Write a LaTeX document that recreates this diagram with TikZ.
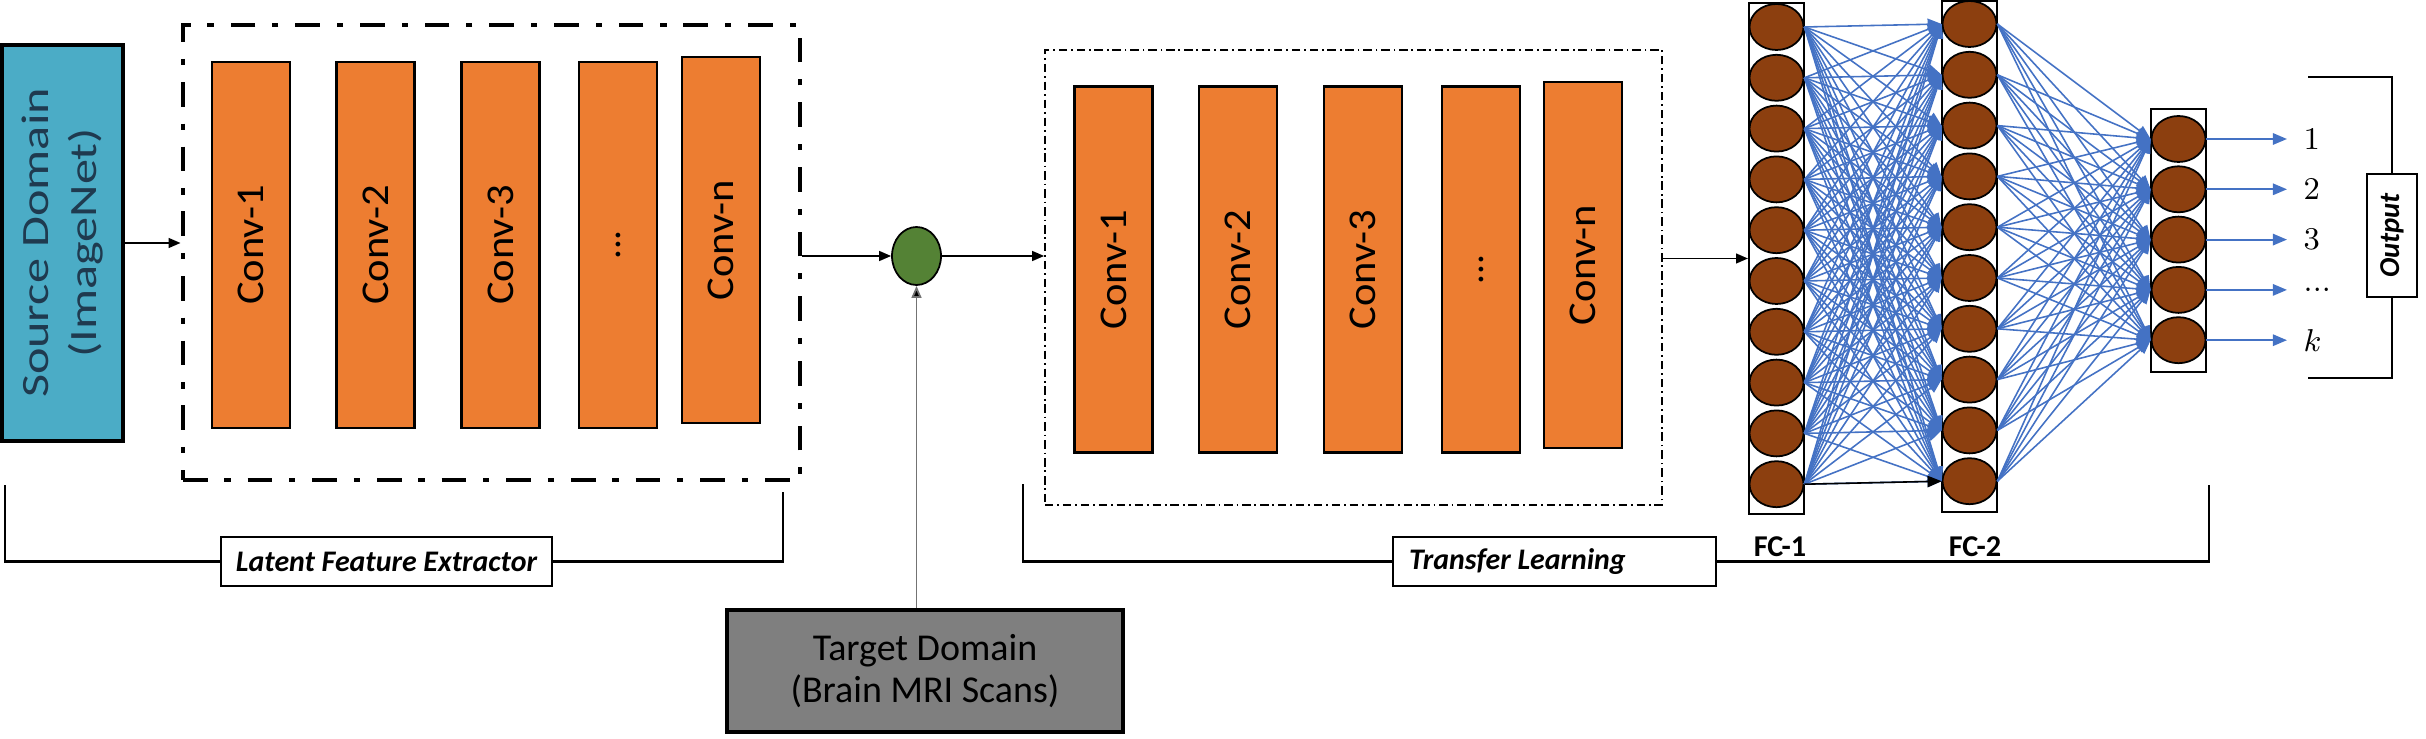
\documentclass[tikz,border=0pt]{standalone}
\usepackage{fontspec}
\setmainfont{Carlito}
\usetikzlibrary{shapes.geometric,arrows.meta}
\definecolor{convorange}{HTML}{ED7D31}
\definecolor{srcblue}{HTML}{4BACC6}
\definecolor{srctext}{HTML}{1F3A4F}
\definecolor{greennode}{HTML}{548235}
\definecolor{tgtgray}{HTML}{7F7F7F}
\definecolor{neuronbrown}{HTML}{8C3F0F}
\definecolor{edgeblue}{HTML}{4472C4}
\newcommand{\stretchtext}[2]{\scalebox{#1}[1]{#2}}
\begin{document}
\begin{tikzpicture}[x=0.1mm,y=-0.1mm,
  box/.style={draw, line width=0.6pt, inner sep=0pt},
  conv/.style={box, fill=convorange, rotate=90, minimum width=36.6mm, minimum height=7.8mm,
    font=\fontsize{11.2pt}{13pt}\selectfont},
  bigdash/.style={draw, line width=1.4pt, dash pattern=on 7pt off 4.8pt on 1.8pt off 4.8pt,
    minimum width=61.7mm, minimum height=45.5mm, inner sep=0pt},
  thindash/.style={draw, line width=0.5pt, dash pattern=on 2.4pt off 1.1pt on 0.5pt off 1.1pt,
    minimum width=61.7mm, minimum height=45.5mm, inner sep=0pt},
  arr/.style={line width=0.5pt, -{Triangle[length=3.4pt,width=2.8pt]}},
  brk/.style={line width=0.6pt},
  lab/.style={box, minimum height=4.9mm, font=\bfseries\itshape\fontsize{8.5pt}{10pt}\selectfont},
  layer/.style={box, fill=white, minimum width=5.5mm},
  neuron/.style={ellipse, draw, line width=0.5pt, fill=neuronbrown, minimum width=5.4mm,
    minimum height=4.6mm, inner sep=0pt},
  edge/.style={draw=edgeblue, line width=0.45pt, -{Triangle[length=4pt,width=3.2pt]}},
  fclab/.style={font=\bfseries\fontsize{8.6pt}{10pt}\selectfont, inner sep=0pt},
  outlab/.style={anchor=west, inner xsep=1.6mm, inner ysep=0pt, font=\fontsize{9.5pt}{11pt}\selectfont}
]
\useasboundingbox (0,0) rectangle (2426,739);

% Source domain
\node[box, line width=1pt, fill=srcblue, rotate=90, minimum width=39.6mm, minimum height=12.1mm,
  align=center, text=srctext, font=\fontsize{11pt}{13.5pt}\selectfont] (src) at (62.5,243)
  {\stretchtext{1.3}{Source Domain}\\\stretchtext{1.3}{(ImageNet)}};

% Latent feature extractor block
\node[bigdash] (db1) at (491.5,252.5) {};
\node[conv] (c11) at (251,245) {\stretchtext{1.08}{Conv-1}};
\node[conv] (c12) at (375.5,245) {\stretchtext{1.08}{Conv-2}};
\node[conv] (c13) at (500.5,245) {\stretchtext{1.08}{Conv-3}};
\node[conv] (c14) at (618,245) {...};
\node[conv] (c1n) at (721,240) {\stretchtext{1.08}{Conv-n}};

% merge node
\node[ellipse, draw, line width=0.5pt, fill=greennode, minimum width=4.9mm, minimum height=5.8mm,
  inner sep=0pt] (g) at (916.5,256) {};

% target domain
\node[box, line width=1pt, fill=tgtgray, minimum width=39.6mm, minimum height=12.2mm, align=center,
  font=\fontsize{10.8pt}{12pt}\selectfont] (tgt) at (925,671)
  {Target Domain\\(Brain MRI Scans)};

% transfer block
\node[thindash] (db2) at (1353.5,277.5) {};
\node[conv] (c21) at (1113.5,269.5) {\stretchtext{1.08}{Conv-1}};
\node[conv] (c22) at (1238,269.5) {\stretchtext{1.08}{Conv-2}};
\node[conv] (c23) at (1363,269.5) {\stretchtext{1.08}{Conv-3}};
\node[conv] (c24) at (1481,269.5) {...};
\node[conv] (c2n) at (1583,265) {\stretchtext{1.08}{Conv-n}};

% arrows
\draw[arr] (src.south) -- (src.south -| db1.west);
\draw[arr] (db1.east |- g.west) -- (g.west);
\draw[arr] (g.east) -- (g.east -| db2.west);
\draw[line width=0.5pt, draw=black!55, -{Triangle[length=3.4pt,width=2.8pt,fill=black]}] (g.south |- tgt.north) -- (g.south);

% brackets and labels
\node[lab, minimum width=33.1mm] (lfe) at (386.5,561.5) {Latent Feature Extractor};
\coordinate (lfeL) at (5,485);
\coordinate (lfeR) at (783,492);
\draw[brk] (lfe.west) -| (lfeL);
\draw[brk] (lfe.east) -| (lfeR);

\node[lab, minimum width=32.3mm] (tl) at (1554.5,561.5) {\makebox[29.1mm][l]{Transfer Learning}};
\coordinate (tlL) at (1023,484);
\coordinate (tlR) at (2209,485);
\draw[brk] (tl.west) -| (tlL);
\draw[brk] (tl.east) -| (tlR);

% neural layers
\node[layer, minimum height=51.1mm] (fcb1) at (1776.5,258.5) {};
\node[layer, minimum height=51.1mm] (fcb2) at (1969.5,256.5) {};
\node[layer, minimum height=26.3mm] (fcb3) at (2178.5,240.5) {};
\node[fclab] (fc1) at (1780,547) {FC-1};
\node[fclab] (fc2) at (1975,547) {FC-2};

\draw[arr] (db2.east |- fcb1.west) -- (fcb1.west);

\foreach \i in {0,...,9} {
  \node[neuron] (a\i) at (1776.5,{27+50.8*\i}) {};
  \node[neuron] (b\i) at (1969.5,{24+50.8*\i}) {};
}
\foreach \j in {0,...,4} {
  \node[neuron] (o\j) at (2178.5,{139+50.3*\j}) {};
}

\foreach \i in {0,...,9} {
  \foreach \j in {0,...,9} {
    \draw[edge] (a\i.east) -- (b\j.west);
  }
}
\draw[edge, draw=black] (a9.east) -- (b9.west);
\foreach \i in {0,...,9} {
  \foreach \j in {0,...,4} {
    \draw[edge] (b\i.east) -- (o\j.west);
  }
}

% outputs
\foreach \j/\t in {0/1,1/2,2/3,3/{...},4/k} {
  \node[outlab] (l\j) at (2287,{139+50.3*\j}) {$\t$};
  \draw[edge, line width=0.6pt] (o\j.east) -- (l\j.west);
}

\node[box, rotate=90, minimum width=12.3mm, minimum height=5mm,
  font=\bfseries\itshape\fontsize{8.2pt}{10pt}\selectfont] (ob) at (2392,235.5) {Output};
\coordinate (obT) at (2308,77);
\coordinate (obB) at (2308,378);
\draw[brk] (obT) -| (ob.east);
\draw[brk] (obB) -| (ob.west);
\end{tikzpicture}
\end{document}
